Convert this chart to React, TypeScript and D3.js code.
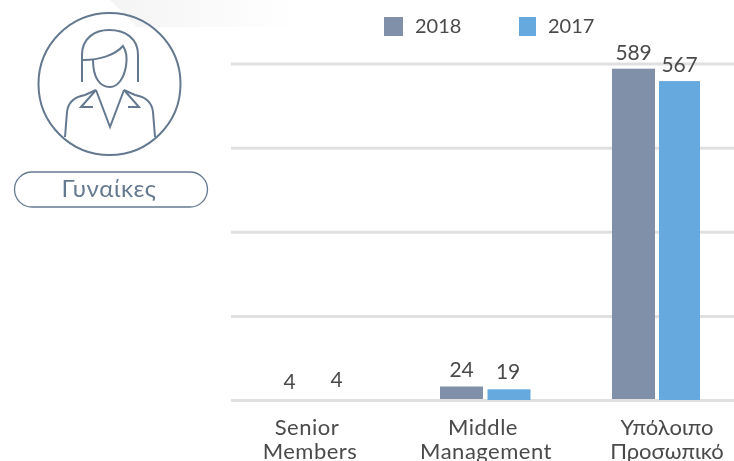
import React from "react";
import * as d3 from "d3";

const categories = [["Senior", "Members"], ["Middle", "Management"], ["Υπόλοιπο", "Προσωπικό"]];
const values2018 = [4, 24, 589];
const values2017 = [4, 19, 567];
const ticks = [0, 150, 300, 450, 600];
const legendItems = ["2018", "2017"];
const badge = "Γυναίκες";

const C18 = "#7f90a8";
const C17 = "#65a9df";
const TXT = "#4a4a4a";
const LINE = "#64798f";
const FONT = "Lato, 'Noto Sans', sans-serif";
const MIN_VISIBLE = 5;

export default function App() {
  const grid = d3.scaleLinear().domain([0, 600]).range([400.5, 64]);
  const y = d3.scaleLinear().domain([0, 600]).range([400, 62.5]);
  const x = d3.scalePoint<number>().domain([0, 1, 2]).range([268, 612]);
  const xBlue = d3.scalePoint<number>().domain([0, 1, 2]).range([316, 659]);
  const catX0 = [307, 483, 667];
  const catX1 = [310, 486, 667];
  const lift18 = [9, 9.5, 9];
  const lift17 = [11, 10, 9.5];
  const labelStyle = { fontSize: 21, fill: TXT, letterSpacing: -0.2 };
  const legendStyle = { fontSize: 20, fill: TXT };
  return (
    <svg width={734} height={461} style={{ position: "fixed", left: 0, top: 0 }} fontFamily={FONT}>
      <defs>
        <linearGradient id="wedge" x1="0" x2="1" y1="0" y2="0">
          <stop offset="0" stopColor="#f4f4f4" />
          <stop offset="1" stopColor="#ffffff" />
        </linearGradient>
      </defs>
      <path d="M110,0 L137,27 L300,27 L300,0 Z" fill="url(#wedge)" />
      {ticks.map((t) => (
        <line key={t} x1={231} x2={734} y1={grid(t)} y2={grid(t)} stroke="#e0e0e0" strokeWidth={3} />
      ))}
      {categories.map((c, i) => {
        const x18 = x(i)!;
        const x17 = xBlue(i)!;
        const w17 = i === 2 ? 41 : 43;
        const visible = values2018[i] > MIN_VISIBLE;
        const top18 = y(values2018[i]);
        const top17 = y(values2017[i]);
        const catStyle = { fontSize: 22, fill: TXT, letterSpacing: i === 2 ? 0 : 0.5 };
        return (
          <g key={i}>
            {visible && <rect x={x18} y={top18} width={43} height={399 - top18} fill={C18} />}
            {visible && <rect x={x17} y={top17} width={w17} height={400 - top17} fill={C17} />}
            <text x={x18 + 21.5} y={top18 - lift18[i]} textAnchor="middle" {...labelStyle}>{values2018[i]}</text>
            <text x={x17 + 20.5} y={top17 - lift17[i]} textAnchor="middle" {...labelStyle}>{values2017[i]}</text>
            <text x={catX0[i]} y={435} textAnchor="middle" {...catStyle}>{c[0]}</text>
            <text x={catX1[i]} y={459} textAnchor="middle" {...catStyle}>{c[1]}</text>
          </g>
        );
      })}
      <rect x={384} y={17} width={19} height={19} fill={C18} />
      <text x={415} y={33} {...legendStyle}>{legendItems[0]}</text>
      <rect x={519} y={17} width={17} height={19} fill={C17} />
      <text x={548} y={33} {...legendStyle}>{legendItems[1]}</text>
      <g fill="none" stroke={LINE} strokeWidth={2}>
        <circle cx={109.5} cy={84} r={71} />
        <path d="M82,82 V55 C82,38 95,30 109,30 C125,30 138,38 138,55 V82" />
        <path d="M83,60 C100,60 115,55 123,46 C127,52 127,60 126,66 C124,78 118,87 110,87 C100,87 93,78 93,60" />
        <path d="M65,137 L67,112 C68,102 74,97 85,95 L96,90 L81,107 L93,107" />
        <path d="M155,137 L153,112 C152,102 146,97 135,95 L124,90 L139,107 L128,107" />
        <path d="M96,90 L110,127 L124,90" />
      </g>
      <rect x={14.5} y={172} width={193} height={35} rx={17.5} fill="#fff" stroke={LINE} strokeWidth={1.3} />
      <text x={109} y={197} textAnchor="middle" fontSize={24} letterSpacing={0.6} fill={LINE}>{badge}</text>
    </svg>
  );
}
